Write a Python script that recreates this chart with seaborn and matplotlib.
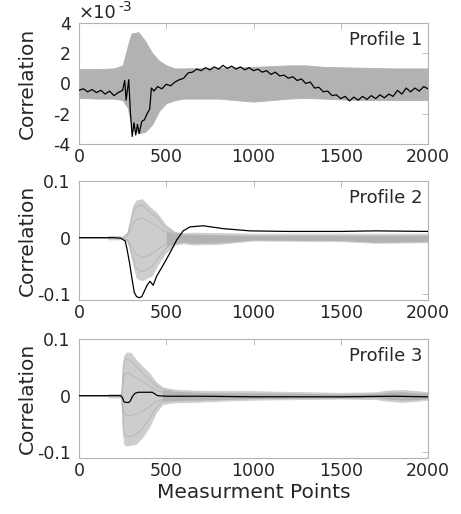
import numpy as np
import matplotlib
matplotlib.use("Agg")
import matplotlib.pyplot as plt
import seaborn as sns

# ---------------- data ----------------
# Profile 1 (values in units of 1e-3)
p1_x = [0, 25, 50, 75, 100, 125, 150, 175, 200, 225, 250, 262, 270, 285, 295,
        305, 315, 325, 335, 345, 360, 375, 390, 405, 415, 430, 450, 475, 500,
        525, 550, 575, 600, 625, 650, 675, 700, 725, 750, 775, 800, 825, 850,
        875, 900, 925, 950, 975, 1000, 1025, 1050, 1075, 1100, 1125, 1150,
        1175, 1200, 1225, 1250, 1275, 1300, 1325, 1350, 1375, 1400, 1425, 1450,
        1475, 1500, 1525, 1550, 1575, 1600, 1625, 1650, 1675, 1700, 1725, 1750,
        1775, 1800, 1825, 1850, 1875, 1900, 1925, 1950, 1975, 2000]
p1_black = [-0.45, -0.35, -0.55, -0.4, -0.6, -0.45, -0.7, -0.5, -0.8, -0.6,
            -0.45, 0.2, -1.1, 0.25, -2.0, -3.5, -2.6, -3.4, -2.7, -3.3, -2.5,
            -2.4, -2.0, -1.7, -0.3, -0.5, -0.2, -0.35, -0.05, -0.15, 0.1, 0.25,
            0.35, 0.7, 0.75, 0.95, 0.85, 1.05, 0.9, 1.1, 0.95, 1.2, 1.0, 1.15,
            0.95, 1.1, 0.9, 1.05, 0.85, 0.95, 0.75, 0.85, 0.6, 0.75, 0.5, 0.55,
            0.35, 0.45, 0.2, 0.3, 0.0, 0.1, -0.3, -0.25, -0.55, -0.5, -0.8,
            -0.75, -1.0, -0.85, -1.15, -0.9, -1.1, -0.85, -1.05, -0.8, -1.0,
            -0.75, -0.95, -0.7, -0.85, -0.45, -0.7, -0.3, -0.55, -0.3, -0.5,
            -0.2, -0.35]
p1_env_x = [0, 100, 200, 250, 280, 300, 340, 380, 420, 460, 500, 550, 600,
            800, 1000, 1200, 1300, 1400, 1600, 1800, 2000]
p1_upper = [0.95, 0.95, 1.0, 1.2, 2.5, 3.3, 3.4, 2.8, 2.0, 1.5, 1.2, 1.0, 1.0,
            1.05, 1.1, 1.2, 1.2, 1.1, 1.05, 1.0, 1.0]
p1_lower = [-0.95, -1.0, -1.0, -1.1, -1.6, -2.8, -3.3, -3.2, -2.7, -1.8, -1.3,
            -1.1, -1.0, -1.0, -1.2, -1.0, -0.95, -1.0, -1.1, -1.1, -1.1]

# Profile 2
p2_x = [0, 200, 240, 255, 265, 275, 290, 305, 317, 330, 345, 360, 375, 390,
        407, 425, 445, 483, 521, 560, 597, 636, 711, 825, 980, 1200, 1500,
        1700, 2000]
p2_black = [0, 0, -0.001, -0.004, -0.006, -0.02, -0.045, -0.075, -0.097,
            -0.104, -0.106, -0.104, -0.094, -0.084, -0.077, -0.084, -0.068,
            -0.048, -0.027, -0.004, 0.012, 0.019, 0.021, 0.016, 0.012, 0.011,
            0.011, 0.012, 0.011]
p2_env_x = [0, 160, 170, 235, 245, 260, 280, 310, 330, 360, 390, 420, 445, 495,
            550, 600, 650, 800, 1000, 1500, 1700, 2000]
p2_upper = [0, 0, 0.003, 0.003, 0.0, 0.002, 0.01, 0.057, 0.066, 0.068, 0.059,
            0.05, 0.044, 0.023, 0.01, 0.008, 0.009, 0.008, 0.007, 0.007, 0.007,
            0.007]
p2_lower = [0, 0, -0.003, -0.003, 0.0, -0.002, -0.008, -0.048, -0.071, -0.075,
            -0.071, -0.066, -0.05, -0.027, -0.012, -0.01, -0.012, -0.011,
            -0.005, -0.006, -0.009, -0.008]
p2_core_x = [500, 550, 600, 650, 800, 1000, 1500, 1700, 2000]
p2_core_upper = [0.012, 0.008, 0.006, 0.006, 0.005, 0.004, 0.004, 0.004, 0.004]
p2_core_lower = [-0.015, -0.01, -0.008, -0.01, -0.009, -0.004, -0.005, -0.008,
                 -0.007]
p2_trace_x = [250, 280, 310, 330, 360, 390, 420, 445, 495, 550, 600]
p2_traces = [
    [0, 0.008, 0.045, 0.055, 0.058, 0.05, 0.042, 0.036, 0.018, 0.008, 0.005],
    [0, 0.005, 0.025, 0.032, 0.035, 0.03, 0.025, 0.02, 0.01, 0.004, 0.003],
    [0, -0.004, -0.02, -0.03, -0.035, -0.032, -0.028, -0.022, -0.012, -0.005,
     -0.004],
    [0, -0.006, -0.035, -0.055, -0.06, -0.056, -0.05, -0.04, -0.02, -0.008,
     -0.006],
]

# Profile 3
p3_x = [0, 240, 250, 258, 270, 285, 295, 305, 320, 340, 380, 420, 435, 450,
        500, 700, 1000, 1500, 1800, 2000]
p3_black = [0, 0, -0.004, -0.011, -0.012, -0.012, -0.009, -0.002, 0.004, 0.006,
            0.006, 0.006, 0.003, 0.0, -0.001, -0.001, -0.002, -0.002, -0.001,
            -0.002]
p3_env_x = [0, 160, 170, 235, 242, 250, 258, 270, 295, 325, 363, 402, 440, 478,
            535, 660, 800, 1000, 1300, 1500, 1700, 1765, 1850, 1937, 2000]
p3_upper = [0, 0, 0.003, 0.003, 0.006, 0.05, 0.07, 0.076, 0.076, 0.064, 0.051,
            0.04, 0.024, 0.015, 0.011, 0.009, 0.008, 0.008, 0.006, 0.005,
            0.006, 0.009, 0.01, 0.008, 0.006]
p3_lower = [0, 0, -0.003, -0.003, -0.006, -0.06, -0.085, -0.088, -0.087,
            -0.085, -0.073, -0.055, -0.03, -0.015, -0.012, -0.011, -0.009,
            -0.007, -0.006, -0.005, -0.006, -0.009, -0.011, -0.009, -0.007]
p3_core_x = [478, 535, 660, 800, 1000, 1300, 1500, 1700, 1765, 1850, 1937, 2000]
p3_core_upper = [0.01, 0.008, 0.006, 0.005, 0.005, 0.004, 0.003, 0.004, 0.006,
                 0.007, 0.005, 0.004]
p3_core_lower = [-0.01, -0.009, -0.008, -0.007, -0.005, -0.004, -0.004, -0.004,
                 -0.006, -0.008, -0.007, -0.005]
p3_trace_x = [245, 258, 270, 295, 325, 363, 402, 440, 478, 535]
p3_traces = [
    [0, 0.06, 0.065, 0.062, 0.052, 0.04, 0.03, 0.018, 0.011, 0.008],
    [0, 0.035, 0.04, 0.038, 0.032, 0.025, 0.018, 0.01, 0.006, 0.005],
    [0, -0.03, -0.035, -0.035, -0.033, -0.028, -0.02, -0.01, -0.007, -0.006],
    [0, -0.065, -0.072, -0.072, -0.068, -0.058, -0.042, -0.022, -0.01, -0.008],
]

x_ticks = [0, 500, 1000, 1500, 2000]
titles = ["Profile 1", "Profile 2", "Profile 3"]

# ---------------- style ----------------
sns.set_theme(style="white")
plt.rcParams["font.family"] = ["DejaVu Sans"]
plt.rcParams["axes.unicode_minus"] = False

TXT = "#262626"
EDGE = "#b3b3b3"
BAND = "#b2b2b2"
BURST = "#cdcdcd"
TRACE = "#b8b8b8"

fig = plt.figure(figsize=(4.61, 5.14), dpi=100)
left, width = 79 / 461, 349 / 461
boxes = [(23, 144), (181, 300), (339, 458)]
axes = [fig.add_axes([left, 1 - b / 514, width, (b - t) / 514]) for t, b in boxes]

panels = [
    dict(bx=p1_x, by=np.array(p1_black) * 1e-3, ex=p1_env_x,
         eu=np.array(p1_upper) * 1e-3, el=np.array(p1_lower) * 1e-3,
         col=BAND, core=None, traces=None),
    dict(bx=p2_x, by=p2_black, ex=p2_env_x, eu=p2_upper, el=p2_lower,
         col=BURST, core=(p2_core_x, p2_core_upper, p2_core_lower),
         traces=(p2_trace_x, p2_traces)),
    dict(bx=p3_x, by=p3_black, ex=p3_env_x, eu=p3_upper, el=p3_lower,
         col=BURST, core=(p3_core_x, p3_core_upper, p3_core_lower),
         traces=(p3_trace_x, p3_traces)),
]

for i, (ax, p) in enumerate(zip(axes, panels)):
    ax.fill_between(p["ex"], p["el"], p["eu"], color=p["col"], lw=0.6,
                    edgecolor=p["col"], zorder=1)
    if p["core"] is not None:
        cx, cu, cl = p["core"]
        ax.fill_between(cx, cl, cu, color=BAND, lw=0, zorder=1.5)
    if p["traces"] is not None:
        tx, tys = p["traces"]
        for ty in tys:
            sns.lineplot(x=tx, y=ty, ax=ax, color=TRACE, lw=0.7, zorder=2)
    sns.lineplot(x=p["bx"], y=p["by"], ax=ax, color="black", lw=0.9, zorder=3)
    ax.set_xlim(0, 2000)
    ax.set_xticks(x_ticks)
    for s in ax.spines.values():
        s.set_color(EDGE)
        s.set_linewidth(0.8)
    ax.tick_params(direction="in", length=4, width=0.6, color=EDGE,
                   top=True, right=True, labelsize=12.5, labelcolor=TXT)
    ax.tick_params(axis="x", pad=3)
    ax.tick_params(axis="y", pad=6)
    ax.set_ylabel("Correlation", fontsize=14.5, color=TXT)
    ax.yaxis.set_label_coords(-0.122, 0.5)
    ax.text(0.985, 0.93, titles[i], transform=ax.transAxes, ha="right",
            va="top", fontsize=13, color=TXT)

axes[0].set_ylim(-4e-3, 4e-3)
axes[0].set_yticks([-4e-3, -2e-3, 0, 2e-3, 4e-3])
axes[0].set_yticklabels(["-4", "-2", "0", "2", "4"])
axes[0].text(0.0, 1.01, "\u00d710", transform=axes[0].transAxes, ha="left",
             va="bottom", fontsize=13, color=TXT)
axes[0].text(0.113, 1.075, "-3", transform=axes[0].transAxes, ha="left",
             va="bottom", fontsize=10, color=TXT)

for ax in axes[1:]:
    ax.set_ylim(-0.11, 0.1)
    ax.set_yticks([-0.1, 0, 0.1])
    ax.set_yticklabels(["-0.1", "0", "0.1"])

axes[2].set_xlabel("Measurment Points", fontsize=14.5, color=TXT, labelpad=2)

fig.savefig("out.png", dpi=100)
